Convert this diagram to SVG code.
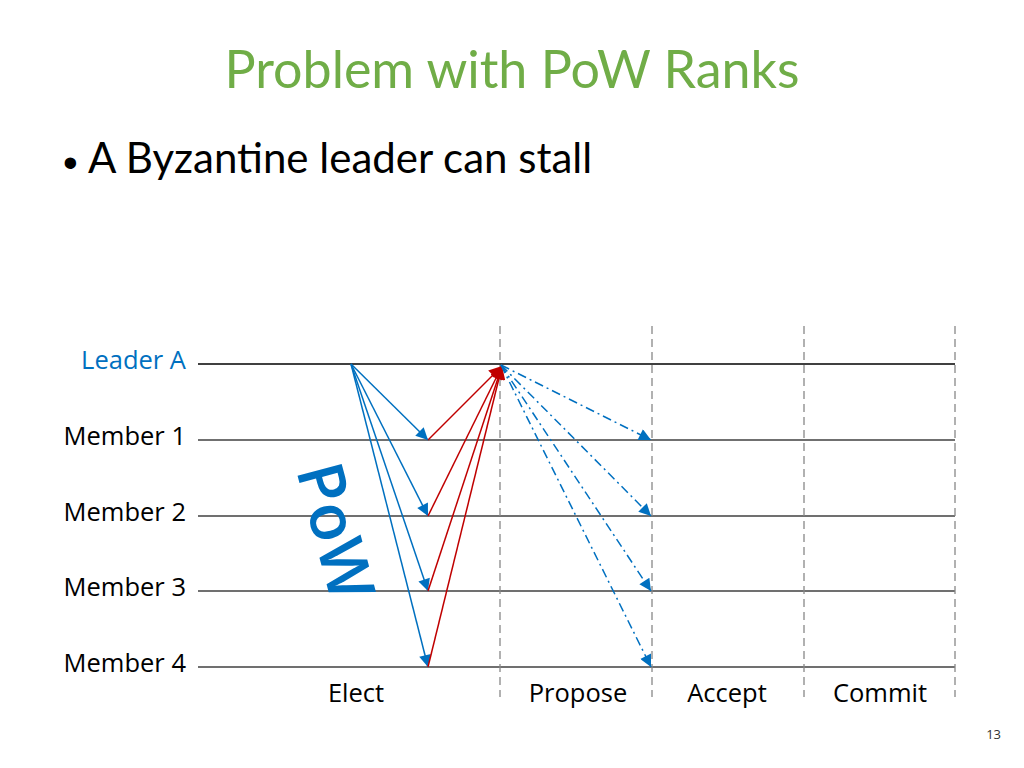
<svg xmlns="http://www.w3.org/2000/svg" width="1024" height="768" viewBox="0 0 1024 768">
<defs>
<style>
.title{font-family:Lato,"Open Sans",sans-serif;font-size:52px;fill:#70AD47}
.body{font-family:Lato,"Open Sans",sans-serif;font-size:42px;fill:#000}
.lbl{font-family:"Open Sans","Noto Sans",sans-serif;font-size:25.5px;fill:#000}
.lead{fill:#0070C0}
.tl{stroke:#404040;stroke-width:1.4;fill:none}
.ph{stroke:#888;stroke-width:1.3;stroke-dasharray:8 5;fill:none}
.b{stroke:#0070C0;stroke-width:1.5;fill:none;marker-end:url(#ab)}
.r{stroke:#C00000;stroke-width:1.5;fill:none;marker-end:url(#ar)}
.d{stroke:#0070C0;stroke-width:1.5;fill:none;stroke-dasharray:9 4 2 4;marker-end:url(#ab)}
</style>
<marker id="ab" viewBox="0 0 10 10" refX="10" refY="5" markerWidth="15" markerHeight="12" markerUnits="userSpaceOnUse" orient="auto"><path d="M0,0 L10,5 L0,10 z" fill="#0070C0"/></marker>
<marker id="ar" viewBox="0 0 10 10" refX="10" refY="5" markerWidth="16" markerHeight="13" markerUnits="userSpaceOnUse" orient="auto"><path d="M0,0 L10,5 L0,10 z" fill="#C00000"/></marker>
</defs>
<rect width="1024" height="768" fill="#fff"/>
<text class="title" x="512" y="88" text-anchor="middle">Problem with PoW Ranks</text>
<text x="63" y="177" font-family="'Liberation Sans',sans-serif" font-size="42" fill="#000">•</text>
<text class="body" x="88" y="173">A Byzantine leader can stall</text>

<g id="timelines">
<line class="tl" x1="198" y1="364" x2="955" y2="364" style="stroke:#000"/>
<line class="tl" x1="198" y1="440" x2="955" y2="440"/>
<line class="tl" x1="198" y1="516" x2="955" y2="516"/>
<line class="tl" x1="198" y1="591" x2="955" y2="591"/>
<line class="tl" x1="198" y1="667" x2="955" y2="667"/>
</g>
<g id="phases">
<line class="ph" x1="500" y1="326" x2="500" y2="697"/>
<line class="ph" x1="652" y1="326" x2="652" y2="697"/>
<line class="ph" x1="804" y1="326" x2="804" y2="697"/>
<line class="ph" x1="955" y1="326" x2="955" y2="697"/>
</g>
<g id="leader-a"><text class="lbl lead" x="186" y="369" text-anchor="end">Leader A</text></g>
<g id="member-1"><text class="lbl" x="186" y="445" text-anchor="end">Member 1</text></g>
<g id="member-2"><text class="lbl" x="186" y="521" text-anchor="end">Member 2</text></g>
<g id="member-3"><text class="lbl" x="186" y="596" text-anchor="end">Member 3</text></g>
<g id="member-4"><text class="lbl" x="186" y="672" text-anchor="end">Member 4</text></g>
<g id="phase-labels">
<text class="lbl" x="356" y="702" text-anchor="middle">Elect</text>
<text class="lbl" x="578" y="702" text-anchor="middle">Propose</text>
<text class="lbl" x="727" y="702" text-anchor="middle">Accept</text>
<text class="lbl" x="880" y="702" text-anchor="middle">Commit</text>
</g>
<text x="296" y="470" transform="rotate(75 296 470)" font-family="'Open Sans',sans-serif" font-size="64" font-weight="600" fill="#0070C0">PoW</text>
<g id="connectors">
<line class="b" x1="351" y1="364" x2="428" y2="440"/>
<line class="b" x1="351" y1="364" x2="428" y2="516"/>
<line class="b" x1="351" y1="364" x2="428" y2="591"/>
<line class="b" x1="351" y1="364" x2="428" y2="667"/>
<line class="r" x1="428" y1="440" x2="502" y2="366"/>
<line class="r" x1="428" y1="516" x2="502" y2="366"/>
<line class="r" x1="428" y1="591" x2="502" y2="366"/>
<line class="r" x1="428" y1="667" x2="502" y2="366"/>
<line class="d" x1="501" y1="365" x2="651" y2="440"/>
<line class="d" x1="501" y1="365" x2="651" y2="516"/>
<line class="d" x1="501" y1="365" x2="651" y2="591"/>
<line class="d" x1="501" y1="365" x2="651" y2="667"/>
</g>
<text x="1001" y="739" text-anchor="end" font-family="'Open Sans',sans-serif" font-size="13" fill="#333">13</text>
</svg>
